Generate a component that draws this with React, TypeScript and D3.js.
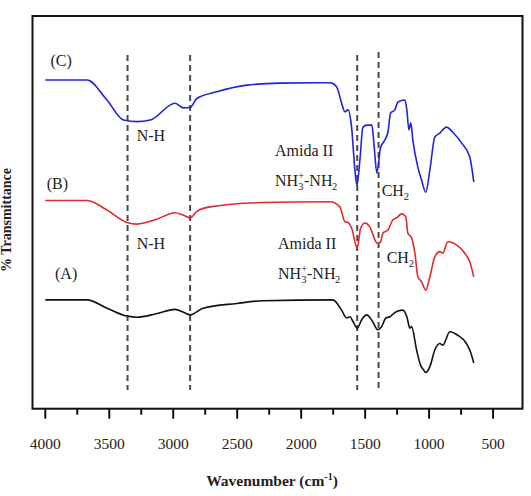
import React from "react";
import * as d3 from "d3";

// ---------- data ----------
const waveC = [4000, 3674, 3518, 3389, 3284, 3180, 2985, 2920, 2868, 2816, 2660, 2425, 2165, 1775, 1723, 1713, 1684, 1658, 1634, 1606, 1580, 1564, 1541, 1517, 1486, 1447, 1432, 1408, 1379, 1346, 1322, 1301, 1268, 1244, 1189, 1174, 1158, 1143, 1127, 1088, 1059, 1026, 994, 955, 916, 864, 815, 747, 682, 651];
const transC = [83.7, 83.7, 78.6, 73.5, 73.1, 73.5, 77.8, 76.6, 76.7, 79.0, 80.7, 82.4, 82.9, 83.0, 82.0, 81.2, 77.8, 75.6, 76.1, 71.7, 60.8, 56.9, 63.3, 71.7, 72.2, 72.2, 67.7, 60.0, 66.6, 68.4, 70.4, 75.3, 76.1, 78.1, 78.6, 76.1, 71.0, 72.8, 68.4, 61.5, 58.2, 55.1, 60.8, 69.2, 70.2, 71.7, 70.4, 67.7, 64.1, 57.7];

const waveB = [4000, 3674, 3518, 3362, 3284, 3141, 2985, 2923, 2868, 2813, 2712, 2298, 1775, 1697, 1658, 1634, 1606, 1562, 1535, 1502, 1463, 1424, 1406, 1379, 1361, 1322, 1283, 1254, 1215, 1182, 1166, 1137, 1111, 1088, 1059, 1026, 994, 955, 916, 893, 854, 786, 721, 682, 651];
const transB = [53.0, 53.0, 50.6, 47.4, 47.0, 48.1, 49.9, 49.3, 48.6, 50.3, 51.4, 52.5, 52.7, 51.4, 47.6, 47.4, 46.0, 40.9, 46.0, 47.3, 46.3, 43.0, 42.1, 42.5, 44.7, 45.5, 48.1, 48.6, 49.6, 48.9, 44.7, 43.5, 39.6, 33.6, 32.3, 30.2, 33.6, 38.7, 40.0, 39.6, 42.5, 41.7, 39.6, 37.4, 33.6];

const waveA = [4000, 3674, 3518, 3362, 3284, 3141, 2985, 2923, 2868, 2766, 2503, 2298, 1752, 1684, 1645, 1619, 1595, 1562, 1528, 1488, 1449, 1400, 1371, 1338, 1307, 1275, 1244, 1205, 1174, 1150, 1137, 1098, 1067, 1041, 1026, 994, 955, 916, 893, 838, 776, 708, 677, 651];
const transA = [27.7, 27.7, 25.6, 23.6, 23.3, 24.1, 25.3, 24.6, 23.9, 25.6, 26.8, 27.5, 27.7, 25.1, 23.1, 23.4, 22.2, 20.5, 22.6, 23.9, 22.6, 20.1, 20.9, 23.1, 23.4, 24.3, 24.9, 25.1, 23.4, 20.5, 20.9, 15.0, 11.1, 9.8, 9.2, 10.7, 15.0, 16.6, 16.2, 19.6, 18.7, 16.6, 14.5, 11.6];

const majorTicks = [4000, 3500, 3000, 2500, 2000, 1500, 1000, 500];
const minorTicks = [3750, 3250, 2750, 2250, 1750, 1250, 750];
const markerLines = [3357, 2868, 1562, 1395];

// ---------- layout ----------
const W = 531;
const H = 496;
const left = 32.5;
const right = 522.5;
const top = 16;
const bottom = 408.7;
const serif = "'Liberation Serif', 'Times New Roman', Times, serif";

export default function App() {
  const x = d3.scaleLinear().domain([4100, 270]).range([left, right]);
  const y = d3.scaleLinear().domain([0, 100]).range([bottom, top]);

  const mk = (w: number[], t: number[]) =>
    d3
      .line<number>()
      .x((_, i) => x(w[i]))
      .y((_, i) => y(t[i]))
      .curve(d3.curveMonotoneX)(w) as string;

  const series = [
    { w: waveC, t: transC, color: "#2222d6" },
    { w: waveB, t: transB, color: "#e02a2a" },
    { w: waveA, t: transA, color: "#111111" },
  ];

  const lab = { fontFamily: serif, fontSize: 16, fill: "#222" } as const;
  const sub = 10.5;

  const nh = (lx: number, base: number) => (
    <g>
      <text x={lx} y={base} {...lab}>NH</text>
      <text x={lx + 23.2} y={base + 4} fontFamily={serif} fontSize={sub} fill="#222">3</text>
      <text x={lx + 23.2} y={base - 7} fontFamily={serif} fontSize={sub} fill="#222">+</text>
      <text x={lx + 29} y={base} {...lab}>-NH</text>
      <text x={lx + 57} y={base + 4} fontFamily={serif} fontSize={sub} fill="#222">2</text>
    </g>
  );

  const ch = (lx: number, base: number) => (
    <g>
      <text x={lx} y={base} {...lab}>CH</text>
      <text x={lx + 22} y={base + 4} fontFamily={serif} fontSize={sub} fill="#222">2</text>
    </g>
  );

  return (
    <svg width={W} height={H} style={{ position: "absolute", left: 0, top: 0, background: "#fff" }}>
      <rect x={0} y={0} width={W} height={H} fill="#fff" />
      {/* dashed marker lines */}
      {markerLines.map((m, i) => (
        <line
          key={m}
          x1={x(m)}
          x2={x(m)}
          y1={i === 3 ? 52 : 55}
          y2={390}
          stroke="#4a4a4a"
          strokeWidth={2}
          strokeDasharray="6,4"
        />
      ))}
      {/* spectra */}
      {series.map((s, i) => (
        <path key={i} d={mk(s.w, s.t)} fill="none" stroke={s.color} strokeWidth={1.6} strokeLinejoin="round" />
      ))}
      {/* frame */}
      <rect x={left} y={top} width={right - left} height={bottom - top} fill="none" stroke="#111" strokeWidth={2} />
      {/* ticks */}
      {majorTicks.map((t) => (
        <g key={t}>
          <line x1={x(t)} x2={x(t)} y1={bottom} y2={bottom + 10} stroke="#111" strokeWidth={2} />
          <text x={x(t)} y={449} textAnchor="middle" fontFamily={serif} fontSize={15.5} fill="#222">
            {t}
          </text>
        </g>
      ))}
      {minorTicks.map((t) => (
        <line key={t} x1={x(t)} x2={x(t)} y1={bottom} y2={bottom + 6} stroke="#111" strokeWidth={2} />
      ))}
      {/* axis titles */}
      <text x={272} y={486} textAnchor="middle" fontFamily={serif} fontSize={15.5} fontWeight="bold" fill="#222">
        Wavenumber (cm
        <tspan fontSize={10} dy={-6}>-1</tspan>
        <tspan dy={6}>)</tspan>
      </text>
      <text
        transform="translate(11,220) rotate(-90)"
        textAnchor="middle"
        fontFamily={serif}
        fontSize={14}
        fontWeight="bold"
        fill="#222"
      >
        % Transmittance
      </text>
      {/* annotations */}
      <text x={50.5} y={66} {...lab}>(C)</text>
      <text x={46.7} y={188.5} {...lab}>(B)</text>
      <text x={55} y={278.5} {...lab}>(A)</text>
      <text x={136.7} y={140.5} {...lab}>N-H</text>
      <text x={136.7} y={248.5} {...lab}>N-H</text>
      <text x={275} y={156} {...lab}>Amida II</text>
      <text x={278} y={248.5} {...lab}>Amida II</text>
      {nh(275, 185.5)}
      {nh(278, 278.5)}
      {ch(381.7, 195.5)}
      {ch(386.7, 262.5)}
    </svg>
  );
}
